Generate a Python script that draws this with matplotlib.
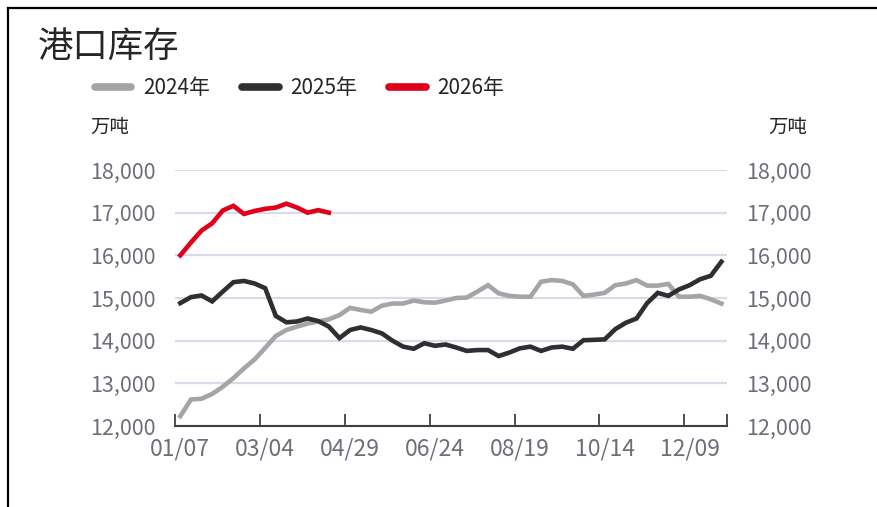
import matplotlib
matplotlib.use('Agg')
import matplotlib.pyplot as plt
from matplotlib.lines import Line2D
import numpy as np

plt.rcParams['font.family'] = ['Noto Sans CJK SC', 'DejaVu Sans']

# weekly port inventory, 10k tonnes
y2024 = [12230, 12620, 12640, 12750, 12920, 13120, 13350, 13560, 13830, 14110,
         14250, 14330, 14400, 14450, 14500, 14600, 14770, 14720, 14680, 14820,
         14870, 14870, 14940, 14900, 14890, 14940, 15000, 15010, 15150, 15300,
         15110, 15050, 15030, 15030, 15380, 15420, 15400, 15320, 15050, 15080,
         15120, 15300, 15340, 15420, 15290, 15290, 15330, 15030, 15030, 15050,
         14970, 14870]
y2025 = [14880, 15020, 15060, 14920, 15150, 15370, 15400, 15340, 15230, 14580,
         14430, 14450, 14520, 14460, 14330, 14060, 14250, 14310, 14250, 14170,
         14000, 13860, 13810, 13940, 13880, 13910, 13840, 13760, 13780, 13780,
         13640, 13720, 13820, 13860, 13760, 13840, 13860, 13810, 14010, 14020,
         14030, 14270, 14420, 14520, 14880, 15120, 15050, 15200, 15300, 15440,
         15520, 15850]
y2026 = [16000, 16300, 16580, 16750, 17050, 17160, 16970, 17040, 17090, 17120,
         17210, 17120, 17000, 17060, 17000]
tick_labels = ['01/07', '03/04', '04/29', '06/24', '08/19', '10/14', '12/09']
yticks = [12000, 13000, 14000, 15000, 16000, 17000, 18000]

fig = plt.figure(figsize=(8.77, 5.07), dpi=100)
ax = fig.add_axes([175/877, 1-426/507, (726.7-175)/877, (426-170)/507])

ax.plot(range(len(y2024)), y2024, color='#a5a5a5', lw=3.3, label='2024年', solid_joinstyle='miter')
ax.plot(range(len(y2025)), y2025, color='#2f2f2f', lw=3.3, label='2025年', solid_joinstyle='miter')
ax.plot(range(len(y2026)), y2026, color='#e0001b', lw=3.3, label='2026年', solid_joinstyle='miter')

ax.set_xlim(-0.5, 51.5)
ax.set_ylim(12000, 18000)
ax.set_yticks(yticks)
ax.set_yticklabels([f'{v:,}' for v in yticks])
ax.grid(axis='y', color='#d9dce8', lw=1.6)
ax.set_axisbelow(True)

for s in ['top', 'left', 'right']:
    ax.spines[s].set_visible(False)
ax.spines['bottom'].set_color('#404040')
ax.spines['bottom'].set_linewidth(1.5)

ax.set_xticks([i - 0.5 for i in range(0, 52, 8)] + [51.5])
ax.set_xticklabels([])
ax.tick_params(axis='x', which='major', direction='in', length=9, width=1.3, color='#404040')
ax.set_xticks(list(range(0, 52, 8)), minor=True)
ax.set_xticklabels(tick_labels, minor=True)
ax.tick_params(axis='x', which='minor', length=0, pad=8, labelsize=16.5, labelcolor='#6e6e78')
ax.tick_params(axis='y', length=0, pad=14, labelsize=15.5, labelcolor='#6e6e78')

ax2 = ax.twinx()
ax2.set_ylim(12000, 18000)
ax2.set_yticks(yticks)
ax2.set_yticklabels([f'{v:,}' for v in yticks])
ax2.tick_params(axis='y', length=0, pad=14, labelsize=15.5, labelcolor='#6e6e78')
for s in ['top', 'left', 'right', 'bottom']:
    ax2.spines[s].set_visible(False)

fig.text(38/877, 1-47/507, '港口库存', fontsize=25.5, color='#262626', va='center', ha='left')
fig.text(90/877, 1-127/507, '万吨', fontsize=14, color='#262626', va='center', ha='left')
fig.text(768/877, 1-127/507, '万吨', fontsize=14, color='#262626', va='center', ha='left')

leg = fig.legend(loc='center left', bbox_to_anchor=(95/877, 1-88/507), ncol=3, frameon=False,
                 fontsize=15, handlelength=1.75, handletextpad=0.55, columnspacing=1.55,
                 borderaxespad=0, borderpad=0)
for t in leg.get_texts():
    t.set_color('#262626')
for h in leg.get_lines():
    h.set_linewidth(5.5)
    h.set_solid_capstyle('round')

# frame lines at top and left
fig.add_artist(Line2D([8/877, 1], [1-8/507, 1-8/507], color='black', lw=1.6))
fig.add_artist(Line2D([8/877, 8/877], [0, 1-8/507], color='black', lw=1.6))

fig.savefig('out.png', dpi=100)
